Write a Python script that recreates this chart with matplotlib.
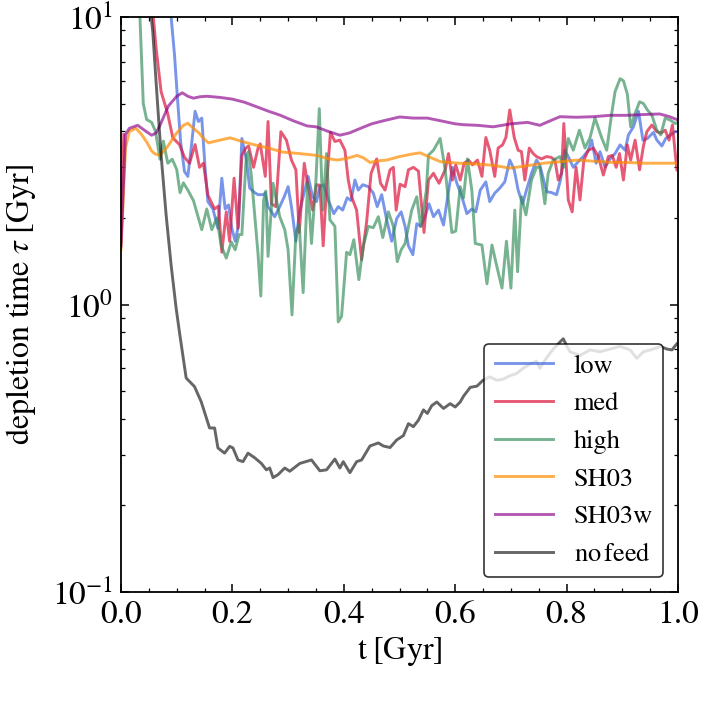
import numpy as np
import matplotlib
matplotlib.use("Agg")
import matplotlib.pyplot as plt
from matplotlib.ticker import MultipleLocator, LogLocator, NullFormatter

plt.rcParams['font.family'] = ['STIXGeneral', 'DejaVu Serif']
plt.rcParams['mathtext.fontset'] = 'stix'

nan = np.nan

low = [(0.085, 15), (0.090, 10), (0.096, 7.4), (0.101, 5.35), (0.107, 3.69), (0.114, 2.9), (0.120, 2.79),
       (0.126, 3.5), (0.133, 4.7), (0.139, 4.33), (0.145, 4.45), (0.151, 2.98), (0.156, 2.28), (0.165, 2.15),
       (0.174, 1.84), (0.181, 2.75), (0.187, 2.15), (0.193, 2.22), (0.199, 1.84), (0.205, 1.66), (0.211, 1.89),
       (0.217, 3.78), (0.225, 3.21), (0.231, 2.54), (0.240, 2.45), (0.246, 2.41), (0.255, 2.41), (0.259, 2.44),
       (0.264, 2.19), (0.276, 2.02), (0.285, 2.19), (0.293, 2.37), (0.300, 2.57), (0.306, 2.19), (0.314, 1.66),
       (0.320, 2.07), (0.327, 2.37), (0.336, 2.79), (0.344, 2.37), (0.351, 2.28), (0.357, 2.57), (0.364, 2.61),
       (0.372, 2.31), (0.382, 2.07), (0.390, 2.19), (0.398, 2.13), (0.406, 2.35), (0.413, 2.3), (0.420, 2.71),
       (0.426, 2.5), (0.434, 2.61), (0.444, 2.57), (0.453, 2.44), (0.460, 2.19), (0.468, 2.41), (0.477, 1.97),
       (0.486, 1.66), (0.495, 1.99), (0.503, 2.1), (0.510, 1.87), (0.516, 1.60), (0.524, 1.49), (0.531, 1.91),
       (0.538, 1.87), (0.545, 2.0), (0.553, 2.24), (0.561, 2.02), (0.570, 2.13), (0.579, 1.89), (0.588, 2.48),
       (0.595, 3.0), (0.603, 2.64), (0.612, 2.37), (0.621, 2.07), (0.630, 2.15), (0.637, 2.1), (0.645, 2.50),
       (0.655, 2.67), (0.662, 2.28), (0.671, 2.44), (0.680, 2.54), (0.689, 2.67), (0.698, 3.18), (0.706, 2.94),
       (0.713, 2.50), (0.721, 2.24), (0.728, 2.50), (0.737, 2.86), (0.746, 3.18), (0.752, 3.05), (0.764, 2.47),
       (0.773, 2.45), (0.782, 2.41), (0.789, 2.71), (0.797, 3.44), (0.806, 3.18), (0.812, 3.0), (0.821, 3.14),
       (0.830, 3.27), (0.839, 3.44), (0.845, 3.73), (0.853, 3.10), (0.860, 3.40), (0.869, 3.0), (0.878, 3.21),
       (0.887, 3.35), (0.896, 3.59), (0.905, 3.44), (0.911, 3.89), (0.920, 4.15), (0.929, 4.7), (0.937, 3.73),
       (0.945, 3.78), (0.956, 3.97), (0.962, 3.73), (0.971, 3.56), (0.978, 3.78), (0.987, 3.89), (0.995, 3.99),
       (1.0, 3.99)]

med = [(0.0, 1.65), (0.005, 3.9), (0.008, nan),
       (0.054, 12), (0.058, 10), (0.063, 7.8), (0.072, 5.5), (0.084, 4.6), (0.093, 3.8), (0.105, 3.6),
       (0.114, 3.25), (0.123, 3.1), (0.133, 3.6), (0.141, 3.0), (0.148, 3.1), (0.156, 2.4), (0.168, 2.15),
       (0.175, 2.2), (0.181, 1.52), (0.189, 2.1), (0.195, 1.66), (0.203, 2.75), (0.210, 1.84), (0.217, 3.3),
       (0.224, 3.5), (0.229, 3.56), (0.238, 3.0), (0.246, 3.5), (0.250, 3.62), (0.259, 2.79), (0.264, 4.33),
       (0.270, 2.24), (0.278, 2.19), (0.287, 3.99), (0.297, 3.73), (0.306, 3.18), (0.314, 2.94), (0.320, 1.78),
       (0.329, 3.1), (0.335, 2.64), (0.344, 2.13), (0.351, 2.61), (0.357, 2.6), (0.363, 1.6), (0.369, 2.57),
       (0.376, 3.97), (0.384, 3.69), (0.393, 3.73), (0.402, 3.44), (0.408, 2.71), (0.414, 2.37), (0.423, 2.13),
       (0.432, 1.43), (0.441, 1.94), (0.449, 2.86), (0.459, 3.21), (0.466, 2.64), (0.474, 2.50), (0.483, 2.94),
       (0.489, 3.0), (0.494, 2.13), (0.501, 2.62), (0.510, 2.57), (0.516, 2.94), (0.525, 3.0), (0.534, 2.91),
       (0.544, 1.78), (0.552, 2.71), (0.561, 2.86), (0.571, 2.64), (0.582, 2.94), (0.588, 3.35), (0.595, 2.71),
       (0.601, 3.06), (0.609, 2.71), (0.616, 3.1), (0.624, 3.18), (0.631, 3.06), (0.640, 3.18), (0.648, 2.79),
       (0.655, 3.81), (0.662, 3.44), (0.671, 2.79), (0.677, 3.5), (0.685, 3.59), (0.691, 3.81), (0.698, 4.75),
       (0.706, 3.81), (0.713, 3.44), (0.719, 3.4), (0.725, 2.71), (0.733, 3.5), (0.740, 3.35), (0.746, 3.27),
       (0.755, 3.21), (0.764, 3.27), (0.772, 3.25), (0.779, 3.18), (0.785, 2.71), (0.791, 2.86), (0.795, 4.26),
       (0.803, 2.31), (0.810, 2.10), (0.817, 3.0), (0.824, 2.31), (0.831, 3.18), (0.839, 3.44), (0.848, 3.5),
       (0.857, 3.27), (0.866, 2.82), (0.875, 3.27), (0.882, 3.3), (0.889, 3.0), (0.895, 3.35), (0.902, 2.71),
       (0.909, 3.59), (0.915, 3.18), (0.923, 3.73), (0.931, 2.94), (0.938, 3.56), (0.944, 3.99), (0.953, 4.21),
       (0.962, 3.99), (0.970, 3.95), (0.977, 4.04), (0.984, 3.73), (0.990, 4.21), (0.998, 2.94)]

high = [(0.025, 15), (0.034, 10), (0.040, 5.0), (0.046, 4.4), (0.055, 4.3), (0.062, 4.0), (0.070, 3.2),
        (0.076, 3.7), (0.084, 3.1), (0.092, 3.2), (0.100, 2.95), (0.106, 2.45), (0.112, 2.65), (0.120, 2.5),
        (0.130, 2.3), (0.145, 1.82), (0.154, 2.15), (0.163, 1.82), (0.172, 2.0), (0.180, 1.6), (0.189, 1.45),
        (0.198, 1.65), (0.205, 1.55), (0.212, 1.75), (0.217, 1.75), (0.225, 3.3), (0.229, 3.4), (0.234, 2.8),
        (0.240, 2.05), (0.246, 1.5), (0.251, 1.07), (0.256, 2.3), (0.260, 2.48), (0.264, 1.47), (0.273, 2.64),
        (0.285, 2.02), (0.294, 1.82), (0.300, 1.55), (0.307, 0.92), (0.314, 1.78), (0.320, 1.9), (0.327, 1.10),
        (0.335, 2.64), (0.342, 1.63), (0.350, 2.71), (0.356, 4.8), (0.362, 2.13), (0.369, 3.35), (0.375, 1.97),
        (0.384, 1.87), (0.390, 0.87), (0.396, 0.91), (0.405, 1.52), (0.411, 1.49), (0.418, 1.68), (0.427, 1.22),
        (0.435, 1.60), (0.444, 1.87), (0.453, 1.85), (0.462, 2.02), (0.470, 1.71), (0.480, 2.1), (0.489, 1.87),
        (0.496, 1.41), (0.503, 1.55), (0.510, 1.63), (0.522, 2.13), (0.531, 2.37), (0.538, 1.87), (0.548, 2.48),
        (0.552, 3.31), (0.561, 3.44), (0.573, 3.78), (0.582, 2.94), (0.594, 1.78), (0.601, 1.8), (0.609, 2.57),
        (0.615, 2.35), (0.622, 3.21), (0.630, 2.48), (0.636, 1.63), (0.648, 1.61), (0.657, 1.18), (0.666, 1.61),
        (0.675, 1.35), (0.684, 1.14), (0.692, 1.66), (0.700, 1.14), (0.707, 2.13), (0.712, 1.30), (0.719, 2.37),
        (0.727, 2.05), (0.737, 2.71), (0.746, 3.0), (0.752, 3.0), (0.761, 2.24), (0.767, 2.86), (0.776, 3.18),
        (0.788, 3.27), (0.795, 3.0), (0.803, 3.78), (0.812, 3.44), (0.823, 4.04), (0.833, 3.5), (0.842, 3.8),
        (0.851, 4.45), (0.863, 3.8), (0.872, 3.44), (0.881, 4.62), (0.887, 5.5), (0.896, 6.1), (0.902, 6.0),
        (0.909, 5.4), (0.915, 4.15), (0.923, 4.62), (0.931, 5.07), (0.938, 5.0), (0.945, 4.75), (0.953, 4.56),
        (0.962, 4.04), (0.969, 3.89), (0.977, 4.45), (0.986, 4.38), (0.995, 4.26), (1.0, 4.3)]

sh03 = [(0.0, 1.55), (0.008, 3.5), (0.015, 4.0), (0.027, 4.1), (0.037, 3.9), (0.047, 3.65), (0.055, 3.42),
        (0.061, 3.34), (0.070, 3.3), (0.083, 3.53), (0.100, 3.95), (0.112, 4.2), (0.120, 4.27), (0.130, 4.1),
        (0.140, 3.95), (0.150, 3.75), (0.157, 3.65), (0.175, 3.72), (0.196, 3.8), (0.215, 3.7), (0.238, 3.6),
        (0.265, 3.5), (0.290, 3.39), (0.320, 3.35), (0.352, 3.3), (0.370, 3.22), (0.388, 3.18), (0.405, 3.22),
        (0.424, 3.3), (0.435, 3.24), (0.447, 3.12), (0.462, 3.16), (0.477, 3.18), (0.500, 3.27), (0.520, 3.33),
        (0.537, 3.37), (0.555, 3.25), (0.573, 3.14), (0.590, 3.12), (0.609, 3.1), (0.640, 3.08), (0.668, 3.05),
        (0.698, 2.98), (0.730, 3.04), (0.758, 3.1), (0.790, 3.14), (0.818, 3.18), (0.850, 3.15), (0.880, 3.12),
        (0.908, 3.12), (0.940, 3.1), (0.970, 3.1), (1.0, 3.1)]

sh03w = [(0.0, 1.6), (0.008, 3.9), (0.015, 4.1), (0.030, 4.2), (0.045, 4.0), (0.055, 3.88), (0.063, 3.95),
         (0.070, 4.2), (0.085, 4.9), (0.100, 5.3), (0.110, 5.45), (0.120, 5.3), (0.130, 5.22), (0.142, 5.28),
         (0.155, 5.3), (0.178, 5.25), (0.200, 5.18), (0.222, 5.05), (0.245, 4.86), (0.265, 4.7), (0.285, 4.56),
         (0.310, 4.35), (0.334, 4.18), (0.350, 4.15), (0.372, 4.0), (0.393, 3.88), (0.410, 3.95), (0.430, 4.1),
         (0.450, 4.25), (0.470, 4.35), (0.500, 4.49), (0.525, 4.45), (0.550, 4.45), (0.575, 4.35), (0.600, 4.25),
         (0.615, 4.22), (0.640, 4.2), (0.668, 4.15), (0.700, 4.25), (0.730, 4.3), (0.752, 4.2), (0.770, 4.35),
         (0.788, 4.5), (0.818, 4.48), (0.848, 4.5), (0.878, 4.55), (0.908, 4.55), (0.940, 4.58), (0.967, 4.6),
         (0.985, 4.5), (1.0, 4.38)]

nofeed = [(0.045, 15), (0.052, 11), (0.057, 8.9), (0.065, 5.2), (0.072, 3.31), (0.081, 2.05), (0.090, 1.37),
          (0.099, 0.97), (0.105, 0.80), (0.117, 0.555), (0.132, 0.518), (0.144, 0.459), (0.159, 0.372),
          (0.168, 0.372), (0.174, 0.317), (0.186, 0.304), (0.195, 0.321), (0.201, 0.317), (0.210, 0.288),
          (0.219, 0.284), (0.228, 0.304), (0.240, 0.293), (0.252, 0.28), (0.261, 0.266), (0.267, 0.27),
          (0.273, 0.25), (0.282, 0.256), (0.294, 0.27), (0.303, 0.263), (0.321, 0.28), (0.342, 0.288),
          (0.357, 0.264), (0.369, 0.266), (0.384, 0.29), (0.393, 0.27), (0.399, 0.284), (0.411, 0.26),
          (0.423, 0.284), (0.432, 0.288), (0.447, 0.322), (0.462, 0.33), (0.471, 0.322), (0.483, 0.318),
          (0.495, 0.338), (0.507, 0.35), (0.516, 0.385), (0.525, 0.376), (0.534, 0.396), (0.543, 0.43),
          (0.550, 0.418), (0.558, 0.445), (0.567, 0.458), (0.579, 0.435), (0.591, 0.452), (0.600, 0.44),
          (0.609, 0.458), (0.615, 0.48), (0.627, 0.515), (0.639, 0.52), (0.650, 0.545), (0.662, 0.56),
          (0.675, 0.545), (0.686, 0.55), (0.698, 0.565), (0.710, 0.575), (0.722, 0.6), (0.734, 0.62),
          (0.746, 0.635), (0.752, 0.6), (0.761, 0.64), (0.776, 0.70), (0.788, 0.74), (0.794, 0.76),
          (0.800, 0.72), (0.806, 0.685), (0.824, 0.665), (0.842, 0.695), (0.860, 0.685), (0.878, 0.70),
          (0.896, 0.715), (0.914, 0.695), (0.926, 0.65), (0.938, 0.685), (0.956, 0.70), (0.968, 0.715),
          (0.980, 0.70), (0.989, 0.695), (0.998, 0.73)]

series = [
    ("low", low, "royalblue", 0.7),
    ("med", med, "crimson", 0.7),
    ("high", high, "seagreen", 0.65),
    ("SH03", sh03, "darkorange", 0.7),
    ("SH03w", sh03w, "darkmagenta", 0.65),
    ("no$\\,$feed", nofeed, "black", 0.6),
]

fig = plt.figure(figsize=(7.14, 7.14), dpi=100)
ax = fig.add_axes([121/714, 1 - 592/714, (678 - 121)/714, (592 - 17)/714])

for name, data, col, a in series:
    t = [p[0] for p in data]
    v = [p[1] for p in data]
    ax.plot(t, v, color=col, alpha=a, lw=2.1, label=name)

ax.set_yscale('log')
ax.set_xlim(0, 1)
ax.set_ylim(0.1, 10)
ax.xaxis.set_major_locator(MultipleLocator(0.2))
ax.xaxis.set_minor_locator(MultipleLocator(0.05))
ax.yaxis.set_minor_locator(LogLocator(base=10, subs=np.arange(2, 10)))
ax.yaxis.set_minor_formatter(NullFormatter())
ax.tick_params(which='both', direction='in', top=True, right=True, labelsize=24, pad=6)
ax.tick_params(which='major', length=5.5, width=1.1)
ax.tick_params(which='minor', length=3, width=0.9)
for s in ax.spines.values():
    s.set_linewidth(1.3)

ax.set_xlabel(r't$\;$[Gyr]', fontsize=23, labelpad=4)
ax.set_ylabel(r'depletion time $\tau\;$[Gyr]', fontsize=23, labelpad=10)

leg = ax.legend(loc='lower right', fontsize=19, handlelength=2.2, labelspacing=0.5, framealpha=0.8,
                edgecolor='black', fancybox=True, borderaxespad=0.55)
leg.get_frame().set_linewidth(1.2)

fig.savefig('out.png', dpi=100)
